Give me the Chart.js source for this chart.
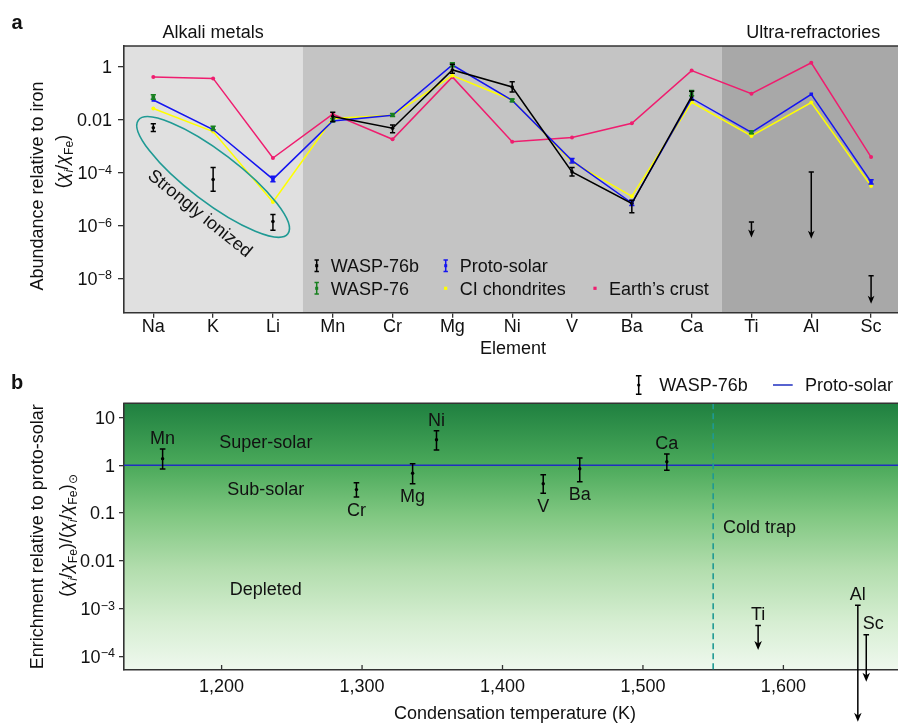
<!DOCTYPE html>
<html><head><meta charset="utf-8">
<script src="https://cdn.jsdelivr.net/npm/chart.js@4.4.1/dist/chart.umd.min.js"></script>
<style>
html,body{margin:0;padding:0;background:#fff;}
#wrap{position:relative;width:898px;height:723px;overflow:hidden;background:#fff;}
canvas{position:absolute;left:0;}
#ca{top:0;}
#cb{top:360px;}
</style></head><body>
<div id="wrap"><canvas id="ca" width="898" height="360"></canvas><canvas id="cb" width="898" height="363"></canvas></div>
<script>
// ================= DATA: panel a =================
const elements = ['Na','K','Li','Mn','Cr','Mg','Ni','V','Ba','Ca','Ti','Al','Sc'];
const alkaliMetals = ['Na','K','Li'];
const ultraRefractories = ['Ti','Al','Sc'];
const earthCrust   = [0.41, 0.36, 3.5e-4, 0.016, 1.8e-3, 0.41, 1.45e-3, 2.1e-3, 7.2e-3, 0.71, 0.095, 1.4, 3.8e-4];
const ciChondrites = [0.026, 3.5e-3, 7.7e-6, 0.011, 0.0145, 0.46, 0.055, 2.5e-4, 1.25e-5, 0.045, 2.4e-3, 0.044, 3.1e-5];
const protoSolar   = [0.055, 4.2e-3, 5.6e-5, 8.8e-3, 0.0145, 1.15, 0.053, 2.8e-4, 7.0e-6, 0.063, 3.3e-3, 0.09, 4.4e-5];
const protoSolarLo = [null, null, 4.5e-5, null, null, null, null, 2.3e-4, 5.6e-6, null, null, null, 3.7e-5];
const protoSolarHi = [null, null, 7.2e-5, null, null, null, null, 3.4e-4, 8.8e-6, null, null, null, 5.3e-5];
const wasp76       = [0.071, 4.8e-3, null, 0.0095, 0.015, 1.19, 0.053, null, null, 0.1, 3.3e-3, null, null];
const wasp76Lo     = [0.058, 4.1e-3, null, 0.0082, 0.013, 1.0, 0.047, null, null, 0.08, 2.9e-3, null, null];
const wasp76Hi     = [0.086, 5.6e-3, null, 0.011, 0.017, 1.4, 0.06, null, null, 0.125, 3.8e-3, null, null];
const wasp76b      = [4.9e-3, 5.4e-5, 1.4e-6, 0.013, 4.7e-3, 0.75, 0.17, 1.05e-4, 6.7e-6, 0.075, null, null, null];
const wasp76bLo    = [3.5e-3, 1.95e-5, 6.5e-7, 8.4e-3, 3.2e-3, 0.56, 0.11, 7.4e-5, 3.0e-6, 0.055, null, null, null];
const wasp76bHi    = [6.9e-3, 1.55e-4, 2.6e-6, 0.019, 6.2e-3, 1.23, 0.27, 1.55e-4, 8.9e-6, 0.117, null, null, null];
const wasp76bUpper = [null, null, null, null, null, null, null, null, null, null, 1.35e-6, 1.05e-4, 1.26e-8];
const wasp76bArrow = [null, null, null, null, null, null, null, null, null, null, 3.5e-7, 3.1e-7, 1.1e-9];
const wasp76bLineFrom = 'Mn';
const yTicksA = [1e-8, 1e-6, 1e-4, 1e-2, 1];

// ================= DATA: panel b =================
const condElem  = ['Mn','Cr','Mg','Ni','V','Ba','Ca'];
const condTemp  = [1158, 1296, 1336, 1353, 1429, 1455, 1517];
const enrich    = [1.38, 0.31, 0.68, 3.44, 0.41, 0.85, 1.19];
const enrichLo  = [0.84, 0.216, 0.41, 2.1, 0.26, 0.45, 0.785];
const enrichHi  = [2.2, 0.43, 1.08, 5.3, 0.635, 1.42, 1.73];
const labelAbove = ['Mn','Ni','Ca'];
const limElem   = ['Ti','Al','Sc'];
const limTemp   = [1582, 1653, 1659];
const limTop    = [4.4e-4, 1.17e-3, 2.8e-4];
const limTip    = [1.35e-4, 4.2e-6, 2.9e-5];
const tempTicks = [1200, 1300, 1400, 1500, 1600];
const yTicksB   = [1e-4, 1e-3, 0.01, 0.1, 1, 10];
const protoSolarRef = 1;
const coldTrapTemp = 1550;

// ================= STYLE =================
const FONT = '"Liberation Sans", Arial, Helvetica, sans-serif';
Chart.defaults.font.family = FONT;
Chart.defaults.font.size = 18;
Chart.defaults.color = '#111';
const C = { pink:'#ef1d6f', yellow:'#ffff00', blue:'#1414f0', green:'#17801f', black:'#000', axis:'#333', teal:'#1f9a94' };

function tickParts(v){
  const e = Math.round(Math.log10(v));
  if (e >= 0) return { base: String(Math.round(v)), exp: '' };
  if (e === -1) return { base: '0.1', exp: '' };
  if (e === -2) return { base: '0.01', exp: '' };
  return { base: '10', exp: '\u2212' + String(-e) };
}
function fmtTick(v){ const p = tickParts(v); return p.base + (p.exp ? '^' + p.exp : ''); }
function fmtThousands(v){ return String(v).replace(/\B(?=(\d{3})+(?!\d))/g, ','); }

function text(ctx, t, x, yc, o = {}){
  const s = o.size || 18;
  ctx.save();
  ctx.font = `${o.bold ? 'bold ' : ''}${s}px ${FONT}`;
  ctx.fillStyle = o.color || '#111';
  ctx.textAlign = o.align || 'center';
  ctx.textBaseline = 'alphabetic';
  ctx.fillText(t, x, yc + 0.358 * s);
  ctx.restore();
}
function drawYTicks(ctx, scale, ticks, right){
  for (const v of ticks){
    const y = scale.getPixelForValue(v);
    const p = tickParts(v);
    ctx.save();
    ctx.fillStyle = '#111'; ctx.textBaseline = 'alphabetic'; ctx.textAlign = 'right';
    let r = right;
    if (p.exp){
      ctx.font = `12.5px ${FONT}`;
      const w = ctx.measureText(p.exp).width;
      ctx.textAlign = 'left';
      ctx.fillText(p.exp, right - w, y + 1.2);
      r = right - w - 0.3;
      ctx.textAlign = 'right';
    }
    ctx.font = `18px ${FONT}`;
    ctx.fillText(p.base, r, y + 6.4);
    ctx.restore();
  }
}
function runsRot(ctx, runs, baseX, cy, s){
  ctx.save();
  ctx.translate(baseX, cy);
  ctx.rotate(-Math.PI / 2);
  ctx.fillStyle = '#111';
  ctx.textBaseline = 'alphabetic';
  ctx.textAlign = 'left';
  const m = runs.map(r => {
    const fs = r.sub ? s * 0.68 : s;
    ctx.font = `${r.it ? 'italic ' : ''}${fs}px ${FONT}`;
    return { r, fs, w: ctx.measureText(r.t).width };
  });
  let x = -m.reduce((a, b) => a + b.w, 0) / 2;
  for (const { r, fs, w } of m){
    ctx.font = `${r.it ? 'italic ' : ''}${fs}px ${FONT}`;
    ctx.fillText(r.t, x, r.sub ? s * 0.28 : 0);
    x += w;
  }
  ctx.restore();
}
function errBar(ctx, x, y1, y2, cap, color, lw){
  ctx.save(); ctx.strokeStyle = color; ctx.lineWidth = lw;
  ctx.beginPath();
  ctx.moveTo(x, y1); ctx.lineTo(x, y2);
  ctx.moveTo(x - cap, y1); ctx.lineTo(x + cap, y1);
  ctx.moveTo(x - cap, y2); ctx.lineTo(x + cap, y2);
  ctx.stroke(); ctx.restore();
}
function arrowDown(ctx, x, yTop, yTip, cap, head, color, lw){
  ctx.save(); ctx.strokeStyle = color; ctx.fillStyle = color; ctx.lineWidth = lw;
  ctx.beginPath();
  ctx.moveTo(x - cap, yTop); ctx.lineTo(x + cap, yTop);
  ctx.moveTo(x, yTop); ctx.lineTo(x, yTip - head * 0.6);
  ctx.stroke();
  ctx.beginPath();
  ctx.moveTo(x, yTip); ctx.lineTo(x - head * 0.42, yTip - head);
  ctx.lineTo(x, yTip - head * 0.72); ctx.lineTo(x + head * 0.42, yTip - head);
  ctx.closePath(); ctx.fill();
  ctx.restore();
}
const pts = arr => arr.map((v, i) => v == null ? null : { x: i, y: v }).filter(Boolean);
const noPadX = s => { s.paddingLeft = 0; s.paddingRight = 0; };
const noPadY = s => { s.paddingTop = 0; s.paddingBottom = 0; };

// ================= PANEL A =================
const panelA = {
  id: 'panelA',
  beforeDraw(chart){
    const { ctx, chartArea: a, scales: { x } } = chart;
    const b1 = x.getPixelForValue(elements.indexOf(alkaliMetals[alkaliMetals.length - 1]) + 0.5);
    const b2 = x.getPixelForValue(elements.indexOf(ultraRefractories[0]) - 0.5);
    ctx.save();
    ctx.fillStyle = '#e0e0e0'; ctx.fillRect(a.left, a.top, b1 - a.left, a.height);
    ctx.fillStyle = '#c4c4c4'; ctx.fillRect(b1, a.top, b2 - b1, a.height);
    ctx.fillStyle = '#a8a8a8'; ctx.fillRect(b2, a.top, a.right - b2, a.height);
    ctx.restore();
  },
  afterDatasetsDraw(chart){
    const { ctx, scales: { x, y } } = chart;
    const sets = [
      [protoSolar, protoSolarLo, protoSolarHi, C.blue],
      [wasp76, wasp76Lo, wasp76Hi, C.green],
      [wasp76b, wasp76bLo, wasp76bHi, C.black],
    ];
    for (const [v, lo, hi, col] of sets){
      v.forEach((val, i) => {
        if (val == null || lo[i] == null) return;
        errBar(ctx, x.getPixelForValue(i), y.getPixelForValue(hi[i]), y.getPixelForValue(lo[i]), 2.6, col, 1.5);
      });
    }
    wasp76bUpper.forEach((val, i) => {
      if (val == null) return;
      arrowDown(ctx, x.getPixelForValue(i), y.getPixelForValue(val), y.getPixelForValue(wasp76bArrow[i]), 2.6, 8, '#000', 1.5);
    });
    // ellipse around strongly ionized alkali
    const p1 = { x: x.getPixelForValue(-0.25), y: y.getPixelForValue(9.5e-3) };
    const p2 = { x: x.getPixelForValue(2.25), y: y.getPixelForValue(4.8e-7) };
    const cx = (p1.x + p2.x) / 2, cy = (p1.y + p2.y) / 2;
    const ang = Math.atan2(p2.y - p1.y, p2.x - p1.x);
    const ra = Math.hypot(p2.x - p1.x, p2.y - p1.y) / 2;
    ctx.save(); ctx.strokeStyle = C.teal; ctx.lineWidth = 1.6;
    ctx.beginPath(); ctx.ellipse(cx, cy, ra, 25, ang, 0, Math.PI * 2); ctx.stroke(); ctx.restore();
    const tx = x.getPixelForValue(0.79), ty = y.getPixelForValue(3.0e-6);
    ctx.save(); ctx.translate(tx, ty); ctx.rotate(39 * Math.PI / 180);
    text(ctx, 'Strongly ionized', 0, 0); ctx.restore();
    // legend
    const colX = [316.7, 445.7, 595], rowY = [265.7, 288.3];
    const items = [
      { label: 'WASP-76b', kind: 'err', color: C.black, c: 0, r: 0 },
      { label: 'Proto-solar', kind: 'err', color: C.blue, c: 1, r: 0 },
      { label: 'WASP-76', kind: 'err', color: C.green, c: 0, r: 1 },
      { label: 'CI chondrites', kind: 'dot', color: C.yellow, c: 1, r: 1 },
      { label: 'Earth\u2019s crust', kind: 'dot', color: C.pink, c: 2, r: 1 },
    ];
    for (const it of items){
      const ix = colX[it.c], iy = rowY[it.r];
      if (it.kind === 'err'){
        errBar(ctx, ix, iy - 5.8, iy + 5.8, 2.2, it.color, 1.5);
        ctx.save(); ctx.fillStyle = it.color; ctx.fillRect(ix - 1.5, iy - 1.5, 3, 3); ctx.restore();
      } else {
        ctx.save(); ctx.fillStyle = it.color; ctx.fillRect(ix - 1.6, iy - 1.6, 3.2, 3.2); ctx.restore();
      }
      text(ctx, it.label, ix + 14, iy, { align: 'left' });
    }
  },
  afterDraw(chart){
    const { ctx, chartArea: a, scales: { x, y } } = chart;
    ctx.save(); ctx.strokeStyle = C.axis; ctx.lineWidth = 1.6;
    ctx.beginPath(); ctx.moveTo(a.left - 0.8, a.top); ctx.lineTo(a.right, a.top); ctx.stroke(); ctx.restore();
    drawYTicks(ctx, y, yTicksA, 112);
    text(ctx, 'Alkali metals', x.getPixelForValue(elements.indexOf('K')), 31.3);
    text(ctx, 'Ultra-refractories', x.getPixelForValue(elements.indexOf('Al')) + 2, 31.3);
    text(ctx, 'a', 17, 21.5, { bold: true, size: 20 });
    text(ctx, 'Element', 513, 347.8);
    runsRot(ctx, [{ t: 'Abundance relative to iron' }], 43.3, 186, 18);
    runsRot(ctx, [{ t: '(' }, { t: '\u03C7', it: true }, { t: 'i', it: true, sub: true }, { t: '/' }, { t: '\u03C7', it: true }, { t: 'Fe', sub: true }, { t: ')' }], 67.8, 161.5, 18);
  }
};

const lineStartIdx = elements.indexOf(wasp76bLineFrom);
new Chart(document.getElementById('ca'), {
  type: 'line',
  data: {
    datasets: [
      { label: 'WASP-76b', data: pts(wasp76b), borderColor: C.black, borderWidth: 1.5,
        pointRadius: 1.8, pointBackgroundColor: C.black, pointBorderWidth: 0,
        segment: { borderColor: c => c.p0DataIndex < lineStartIdx ? 'rgba(0,0,0,0)' : C.black } },
      { label: 'WASP-76', data: pts(wasp76), showLine: false, pointStyle: 'rect',
        pointRadius: 2.6, pointBackgroundColor: C.green, pointBorderWidth: 0 },
      { label: 'Proto-solar', data: pts(protoSolar), borderColor: C.blue, borderWidth: 1.5,
        pointStyle: 'rect', pointRadius: 2.5, pointBackgroundColor: C.blue, pointBorderWidth: 0 },
      { label: 'CI chondrites', data: pts(ciChondrites), borderColor: C.yellow, borderWidth: 1.5,
        pointRadius: 2, pointBackgroundColor: C.yellow, pointBorderWidth: 0 },
      { label: 'Earth\u2019s crust', data: pts(earthCrust), borderColor: C.pink, borderWidth: 1.5,
        pointRadius: 2, pointBackgroundColor: C.pink, pointBorderWidth: 0 },
    ]
  },
  options: {
    responsive: false, animation: false, devicePixelRatio: 1,
    layout: { autoPadding: false, padding: { top: 46, left: 0, right: 0, bottom: 0 } },
    plugins: { legend: { display: false }, tooltip: { enabled: false } },
    scales: {
      x: { type: 'linear', min: -0.49, max: 12.45,
        afterBuildTicks: s => { s.ticks = elements.map((_, i) => ({ value: i })); },
        afterFit: s => { s.height = 47.3; noPadX(s); },
        ticks: { autoSkip: false, maxRotation: 0, padding: -1, callback: v => elements[Math.round(v)] ?? '' },
        grid: { display: true, drawOnChartArea: false, drawTicks: true, tickLength: 5, color: C.axis, lineWidth: 1.3 },
        border: { display: true, color: C.axis, width: 1.6 } },
      y: { type: 'logarithmic', min: 5e-10, max: 6.03,
        afterBuildTicks: s => { s.ticks = yTicksA.map(v => ({ value: v })); },
        afterFit: s => { s.width = 124; noPadY(s); },
        ticks: { display: false, callback: v => fmtTick(v) },
        grid: { display: true, drawOnChartArea: false, drawTicks: true, tickLength: 6, color: C.axis, lineWidth: 1.3 },
        border: { display: true, color: C.axis, width: 1.6 } }
    }
  },
  plugins: [panelA]
});

// ================= PANEL B =================
const panelB = {
  id: 'panelB',
  beforeDraw(chart){
    const { ctx, chartArea: a } = chart;
    const g = ctx.createLinearGradient(0, a.top, 0, a.bottom);
    g.addColorStop(0, '#1f8040');
    g.addColorStop(0.23, '#4aa95a');
    g.addColorStop(0.42, '#80c781');
    g.addColorStop(0.62, '#b2ddad');
    g.addColorStop(0.82, '#d6eed2');
    g.addColorStop(1, '#eff8ee');
    ctx.save(); ctx.fillStyle = g; ctx.fillRect(a.left, a.top, a.width, a.height); ctx.restore();
  },
  afterDatasetsDraw(chart){
    const { ctx, chartArea: a, scales: { x, y } } = chart;
    const cxp = x.getPixelForValue(coldTrapTemp);
    ctx.save(); ctx.strokeStyle = C.teal; ctx.lineWidth = 1.6; ctx.setLineDash([6, 4]);
    ctx.beginPath(); ctx.moveTo(cxp, a.top); ctx.lineTo(cxp, a.bottom); ctx.stroke(); ctx.restore();
    text(ctx, 'Super-solar', x.getPixelForValue(1231.5), y.getPixelForValue(3.2));
    text(ctx, 'Sub-solar', x.getPixelForValue(1231.5), y.getPixelForValue(0.33));
    text(ctx, 'Depleted', x.getPixelForValue(1231.5), y.getPixelForValue(2.6e-3));
    text(ctx, 'Cold trap', x.getPixelForValue(1557), y.getPixelForValue(0.053), { align: 'left' });
    condElem.forEach((el, i) => {
      const px = x.getPixelForValue(condTemp[i]);
      const yh = y.getPixelForValue(enrichHi[i]), yl = y.getPixelForValue(enrichLo[i]);
      errBar(ctx, px, yh, yl, 2.8, '#000', 1.5);
      const above = labelAbove.includes(el);
      text(ctx, el, px, above ? yh - 11.5 : yl + 12);
    });
    limElem.forEach((el, i) => {
      const px = x.getPixelForValue(limTemp[i]);
      const yt = y.getPixelForValue(limTop[i]);
      arrowDown(ctx, px, yt, y.getPixelForValue(limTip[i]), 2.8, 9, '#000', 1.5);
      text(ctx, el, px + (el === 'Sc' ? 7 : 0), yt - 12);
    });
    errBar(ctx, 638.7, 15.7, 34.3, 2.8, '#000', 1.5);
    ctx.save(); ctx.fillStyle = '#000'; ctx.beginPath(); ctx.arc(638.7, 25, 1.6, 0, Math.PI * 2); ctx.fill(); ctx.restore();
    text(ctx, 'WASP-76b', 659.3, 25, { align: 'left' });
    ctx.save(); ctx.strokeStyle = '#1f2fc0'; ctx.lineWidth = 1.5;
    ctx.beginPath(); ctx.moveTo(773, 25); ctx.lineTo(792.7, 25); ctx.stroke(); ctx.restore();
    text(ctx, 'Proto-solar', 805, 25, { align: 'left' });
  },
  afterDraw(chart){
    const { ctx, chartArea: a, scales: { x, y } } = chart;
    ctx.save(); ctx.strokeStyle = C.axis; ctx.lineWidth = 1.6;
    ctx.beginPath(); ctx.moveTo(a.left - 0.8, a.top); ctx.lineTo(a.right, a.top); ctx.stroke();
    ctx.lineWidth = 1.3;
    for (const t of tempTicks){
      const px = x.getPixelForValue(t);
      ctx.beginPath(); ctx.moveTo(px, a.bottom); ctx.lineTo(px, a.bottom - 5); ctx.stroke();
    }
    ctx.restore();
    drawYTicks(ctx, y, yTicksB, 115);
    text(ctx, 'b', 17, 22, { bold: true, size: 20 });
    text(ctx, 'Condensation temperature (K)', 515, 353);
    runsRot(ctx, [{ t: 'Enrichment relative to proto-solar' }], 42.9, 176.7, 18);
    runsRot(ctx, [
      { t: '(' }, { t: '\u03C7', it: true }, { t: 'i', it: true, sub: true }, { t: '/' }, { t: '\u03C7', it: true }, { t: 'Fe', sub: true }, { t: ')/(' },
      { t: '\u03C7', it: true }, { t: 'i', it: true, sub: true }, { t: '/' }, { t: '\u03C7', it: true }, { t: 'Fe', sub: true }, { t: ')' }, { t: '\u2299', sub: true }
    ], 72.2, 175.5, 18);
  }
};

const xMinB = 1130.5, xMaxB = 1681.6;
new Chart(document.getElementById('cb'), {
  type: 'line',
  data: {
    datasets: [
      { label: 'WASP-76b', data: condTemp.map((t, i) => ({ x: t, y: enrich[i] })), showLine: false,
        pointRadius: 1.7, pointBackgroundColor: '#000', pointBorderWidth: 0 },
      { label: 'Proto-solar', data: [{ x: xMinB, y: protoSolarRef }, { x: xMaxB, y: protoSolarRef }],
        borderColor: '#1f2fc0', borderWidth: 1.5, pointRadius: 0 },
    ]
  },
  options: {
    responsive: false, animation: false, devicePixelRatio: 1,
    layout: { autoPadding: false, padding: { top: 43.3, left: 0, right: 0, bottom: 0 } },
    plugins: { legend: { display: false }, tooltip: { enabled: false } },
    scales: {
      x: { type: 'linear', min: xMinB, max: xMaxB,
        afterBuildTicks: s => { s.ticks = tempTicks.map(v => ({ value: v })); },
        afterFit: s => { s.height = 53; noPadX(s); },
        ticks: { autoSkip: false, maxRotation: 0, padding: 6, callback: v => fmtThousands(v) },
        grid: { display: true, drawOnChartArea: false, drawTicks: false },
        border: { display: true, color: C.axis, width: 1.6 } },
      y: { type: 'logarithmic', min: 5.13e-5, max: 19.95,
        afterBuildTicks: s => { s.ticks = yTicksB.map(v => ({ value: v })); },
        afterFit: s => { s.width = 124; noPadY(s); },
        ticks: { display: false, callback: v => fmtTick(v) },
        grid: { display: true, drawOnChartArea: false, drawTicks: true, tickLength: 5, color: C.axis, lineWidth: 1.3 },
        border: { display: true, color: C.axis, width: 1.6 } }
    }
  },
  plugins: [panelB]
});
</script>
</body></html>
